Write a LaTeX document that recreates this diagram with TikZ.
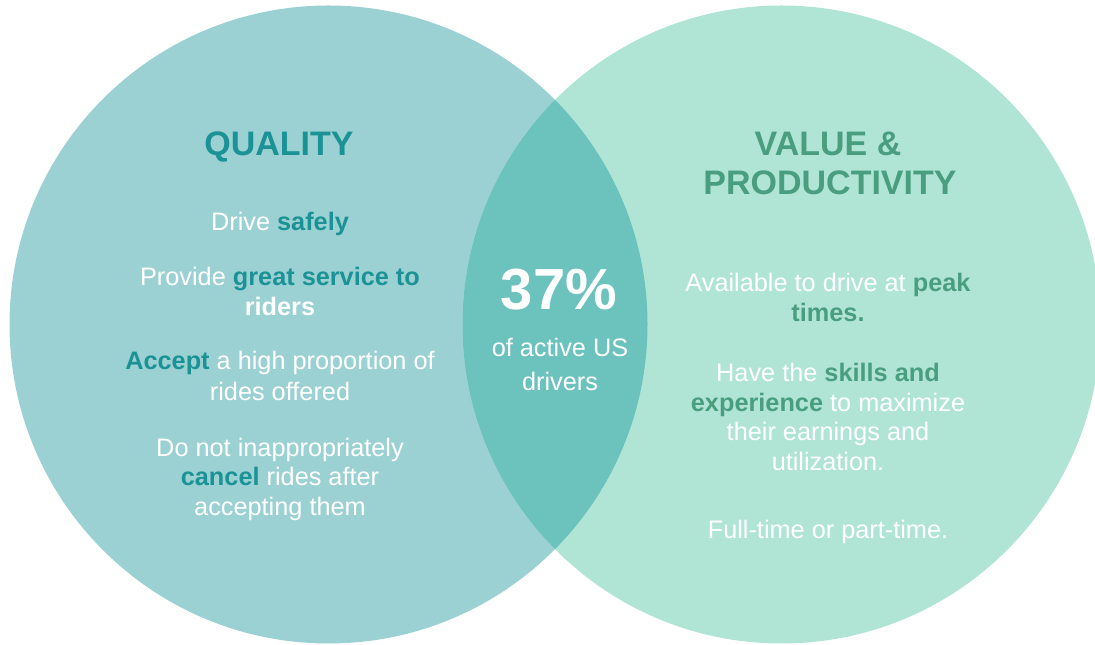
\documentclass[tikz,border=0pt]{standalone}
\usepackage{fontspec}
\setmainfont{Liberation Sans}
\definecolor{leftc}{HTML}{9BD1D3}
\definecolor{rightc}{HTML}{B0E5D5}
\definecolor{midc}{HTML}{6CC2BD}
\definecolor{tealt}{HTML}{1A9296}
\definecolor{greent}{HTML}{4A9E80}
\tikzset{
  body/.style={anchor=base, inner sep=0pt, text=white, font=\fontsize{25.3}{30}\selectfont},
  ttl/.style={anchor=base, inner sep=0pt, font=\fontsize{34}{40}\selectfont\bfseries},
  big/.style={anchor=base, inner sep=0pt, text=white, font=\fontsize{58}{60}\selectfont\bfseries}
}
\newcommand{\tq}[1]{\textbf{\textcolor{tealt}{#1}}}
\newcommand{\tg}[1]{\textbf{\textcolor{greent}{#1}}}
\begin{document}
\begin{tikzpicture}[x=1pt,y=1pt]
\useasboundingbox (0,0) rectangle (1095,645);
\clip (0,0) rectangle (1095,645);
\coordinate (cl) at (328.5,320.5);
\coordinate (cr) at (781.5,320.5);
\fill[leftc] (cl) circle[radius=319];
\fill[rightc] (cr) circle[radius=319];
\begin{scope}
  \clip (cl) circle[radius=319];
  \fill[midc] (cr) circle[radius=319];
\end{scope}
% left
\node[ttl,text=tealt] (q) at (279,489) {QUALITY};
\node[body] (l1) at (280,414) {Drive \tq{safely}};
\node[body] (l2) at (280,359) {Provide \tq{great service to}};
\node[body] (l3) at (280,329) {\textbf{riders}};
\node[body] (l4) at (280,275) {\tq{Accept} a high proportion of};
\node[body] (l5) at (280,244) {rides offered};
\node[body] (l6) at (280,188) {Do not inappropriately};
\node[body] (l7) at (280,159) {\tq{cancel} rides after};
\node[body] (l8) at (280,129) {accepting them};
% center
\node[big] (p) at (559,335) {37\%};
\node[body] (c1) at (560,288) {of active US};
\node[body] (c2) at (560,254) {drivers};
% right
\node[ttl,text=greent] (v1) at (828,489) {VALUE \&};
\node[ttl,text=greent] (v2) at (830,450) {PRODUCTIVITY};
\node[body] (r1) at (828,353) {Available to drive at \tg{peak}};
\node[body] (r2) at (828,323) {\tg{times.}};
\node[body] (r3) at (828,263) {Have the \tg{skills and}};
\node[body] (r4) at (828,233) {\tg{experience} to maximize};
\node[body] (r5) at (828,204) {their earnings and};
\node[body] (r6) at (828,174) {utilization.};
\node[body] (r7) at (828,106) {Full-time or part-time.};
\end{tikzpicture}
\end{document}
